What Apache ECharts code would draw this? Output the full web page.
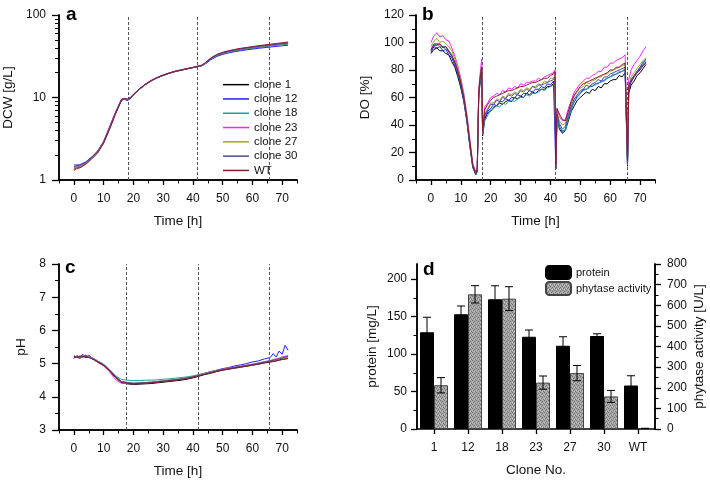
<!DOCTYPE html>
<html><head><meta charset="utf-8">
<script src="https://cdn.jsdelivr.net/npm/echarts@6/dist/echarts.min.js"></script>
<style>html,body{margin:0;padding:0;background:#fff}#c{width:710px;height:480px}</style>
</head><body><div id="c"></div>
<script>
const cloneNames = ['clone 1','clone 12','clone 18','clone 23','clone 27','clone 30','WT'];
const cloneColors = ['#000000','#2020ff','#1aa0a0','#ff20ff','#a0a030','#4a4a96','#8b1a2c'];

// ---- panel a: DCW [g/L] ----
const timeDCW = [0,1,2,4,6,8,10,12,14,16,17,18,19,20,22,24,26,28,30,32,34,36,38,40,42,43,44,46,48,50,52,54,56,58,60,62,64,66,68,70,72];
const dcwClone1  = [1.35,1.42,1.43,1.58,1.83,2.18,2.85,4.2,6.4,9.3,9.6,9.3,9.8,10.7,12.5,14.3,15.9,17.3,18.5,19.6,20.6,21.4,22.2,23.0,23.9,24.3,25.5,29.0,32.0,34.0,35.5,36.8,37.9,38.9,39.8,40.7,41.5,42.3,43.2,44.0,44.8];
const dcwClone12 = [1.52,1.52,1.53,1.66,1.9,2.25,2.9,4.3,6.5,9.3,9.5,9.2,9.7,10.7,12.5,14.3,15.9,17.3,18.5,19.6,20.6,21.4,22.2,23.0,23.8,24.2,25.3,28.6,31.4,33.3,34.7,35.9,36.9,37.8,38.6,39.4,40.2,40.9,41.6,42.3,43.0];
const dcwClone18 = [1.4,1.46,1.47,1.61,1.86,2.2,2.9,4.3,6.5,9.4,9.6,9.4,9.9,10.8,12.6,14.4,16.0,17.4,18.6,19.7,20.7,21.5,22.3,23.1,24.0,24.4,25.6,29.2,32.1,34.1,35.6,36.9,38.0,39.0,39.9,40.8,41.6,42.4,43.2,44.0,44.8];
const dcwClone23 = [1.38,1.44,1.45,1.6,1.85,2.22,2.95,4.45,6.7,9.6,9.8,9.5,10.0,10.9,12.7,14.5,16.1,17.5,18.7,19.8,20.8,21.6,22.4,23.2,24.1,24.6,26.0,29.8,32.9,35.0,36.6,37.9,39.0,40.0,41.0,41.9,42.8,43.6,44.5,45.4,46.3];
const dcwClone27 = [1.36,1.43,1.44,1.59,1.84,2.2,2.88,4.25,6.45,9.4,9.6,9.4,9.9,10.8,12.6,14.4,16.0,17.4,18.6,19.7,20.7,21.5,22.3,23.1,24.0,24.5,25.8,29.5,32.5,34.5,36.0,37.3,38.4,39.4,40.3,41.2,42.0,42.8,43.7,44.6,45.5];
const dcwClone30 = [1.45,1.5,1.5,1.64,1.88,2.24,2.92,4.35,6.55,9.5,9.7,9.4,9.9,10.8,12.6,14.4,16.0,17.4,18.6,19.7,20.7,21.5,22.3,23.1,24.0,24.5,25.9,29.7,32.7,34.7,36.3,37.6,38.7,39.7,40.6,41.5,42.4,43.2,44.1,45.0,45.9];
const dcwWT      = [1.3,1.38,1.4,1.55,1.8,2.12,2.78,4.1,6.3,9.2,9.7,9.6,10.0,10.9,12.7,14.5,16.1,17.5,18.7,19.8,20.8,21.6,22.4,23.2,24.1,24.7,26.2,30.1,33.2,35.3,36.9,38.2,39.4,40.4,41.4,42.4,43.3,44.2,45.1,46.0,47.0];

// ---- panel b: DO [%] ----
const timeDO = [0,1,2,3,4,5,6,7,8,9,10,11,12,13,14,15,15.5,16,16.5,17,17.3,
  18,19,20,21,22,23,24,25,26,27,28,29,30,31,32,33,34,35,36,37,38,39,40,41,41.5,41.8,42.2,
  43,44,45,46,47,48,49,50,51,52,53,54,55,56,57,58,59,60,61,62,63,64,65,65.5,65.8,66.2,
  67,68,69,70,71,72];
const doClone1 = [92,95,96,94,94,92,91,86,82,75,67,57,43,25,9,4,6,60,72,79,32,
  44,49,50,53,54,56,55,57,58,57,60,59,61,60,63,62,64,63,65,66,66,68,68,70,72,8,46,
  37,34,36,43,50,54,58,60,62,64,63,66,65,68,67,70,70,72,73,73,76,75,78,78,10,63,
  69,72,76,78,81,84];
const doClone12 = [93,97,96,97,94,95,91,89,83,77,68,58,44,26,10,4,7,62,73,80,34,
  45,50,52,55,54,57,57,59,58,60,60,62,61,63,63,65,64,66,66,68,67,70,69,72,73,9,47,
  39,35,37,45,52,57,61,63,66,66,68,68,70,70,72,72,74,75,76,77,78,79,80,81,11,65,
  71,75,78,81,84,86];
const doClone18 = [95,98,99,97,97,95,94,90,85,78,70,59,45,27,10,4,7,63,74,81,33,
  43,47,51,52,54,53,56,55,57,58,57,59,60,60,62,61,63,63,64,66,65,67,68,69,71,9,46,
  38,36,36,45,51,57,60,63,65,66,67,69,69,71,71,73,74,75,77,77,79,79,81,82,12,66,
  73,76,79,82,86,88];
const doClone23 = [100,105,107,104,105,102,101,96,90,83,74,63,48,30,12,6,9,66,78,88,38,
  53,56,60,61,63,62,65,64,67,66,68,67,70,69,71,71,72,72,74,73,75,76,77,78,80,11,52,
  46,43,44,52,58,64,67,70,72,74,74,76,77,79,79,82,82,85,85,87,88,89,91,92,15,73,
  80,84,87,90,94,97];
const doClone27 = [97,101,103,100,101,99,97,94,88,81,73,62,47,29,12,5,8,64,76,83,35,
  48,52,56,56,59,58,61,60,63,62,64,63,66,65,67,66,68,68,70,69,72,71,74,74,76,10,50,
  43,40,41,49,56,61,64,67,68,71,70,72,73,75,75,77,77,79,80,81,82,83,84,85,13,68,
  75,78,81,84,87,89];
const doClone30 = [95,99,99,99,97,97,94,91,85,79,70,60,45,27,10,4,7,63,74,81,34,
  47,51,55,55,58,57,60,59,62,61,63,62,65,64,66,65,68,67,69,69,70,71,72,73,75,9,48,
  41,37,39,47,54,59,62,65,66,69,68,70,71,73,72,75,75,77,78,79,80,81,82,83,12,66,
  73,76,79,82,85,87];
const doWT = [94,98,98,99,96,97,93,90,86,79,71,60,46,28,11,5,8,64,75,82,36,
  51,55,58,60,61,62,63,64,65,65,66,67,68,68,69,70,71,71,72,73,74,74,76,77,79,11,52,
  48,44,43,50,57,62,65,68,70,71,72,73,74,75,76,77,78,80,80,82,82,84,85,86,14,69,
  72,75,78,80,83,85];

// ---- panel c: pH ----
const timePH = [0,1,2,3,4,5,6,7,8,10,12,14,16,18,20,22,24,26,28,30,32,34,36,38,40,42,44,46,48,50,52,54,56,58,60,62,64,66,67,68,69,70,71,72];
const phClone1 = [5.18,5.2,5.16,5.22,5.18,5.2,5.15,5.1,5.04,
  4.94,4.78,4.58,4.43,4.39,4.37,4.38,4.39,4.4,4.42,4.44,4.46,4.48,4.5,4.53,4.57,4.62,4.67,4.71,4.76,4.8,4.83,4.86,4.89,4.92,4.95,4.98,5.02,5.05,
  5.07,5.08,5.11,5.13,5.14,5.15];
const phClone12 = [5.15,5.24,5.2,5.28,5.19,5.25,5.18,5.13,5.08,
  4.97,4.81,4.61,4.46,4.43,4.41,4.42,4.43,4.44,4.46,4.48,4.5,4.52,4.54,4.57,4.61,4.66,4.71,4.76,4.8,4.85,4.88,4.93,4.96,5.0,5.05,5.08,5.14,5.18,
  5.3,5.2,5.38,5.28,5.55,5.4];
const phClone18 = [5.22,5.2,5.21,5.19,5.23,5.2,5.17,5.14,5.08,
  4.98,4.83,4.64,4.52,4.5,4.49,4.49,4.5,4.5,4.51,4.53,4.54,4.56,4.58,4.6,4.63,4.67,4.71,4.75,4.8,4.83,4.86,4.89,4.92,4.95,4.98,5.02,5.06,5.09,
  5.11,5.13,5.15,5.17,5.19,5.2];
const phClone23 = [5.25,5.18,5.22,5.2,5.26,5.19,5.17,5.1,5.05,
  4.93,4.75,4.52,4.4,4.4,4.39,4.4,4.42,4.43,4.45,4.47,4.49,4.51,4.53,4.56,4.6,4.65,4.7,4.74,4.79,4.83,4.86,4.89,4.92,4.95,4.98,5.01,5.05,5.09,
  5.12,5.14,5.16,5.2,5.22,5.24];
const phClone27 = [5.2,5.23,5.19,5.25,5.21,5.23,5.17,5.12,5.07,
  4.97,4.81,4.61,4.46,4.43,4.41,4.42,4.43,4.44,4.46,4.48,4.5,4.52,4.54,4.57,4.61,4.65,4.7,4.74,4.79,4.82,4.85,4.88,4.91,4.94,4.97,5.0,5.04,5.08,
  5.1,5.12,5.14,5.17,5.19,5.21];
const phClone30 = [5.19,5.21,5.17,5.23,5.2,5.21,5.16,5.11,5.06,
  4.96,4.8,4.6,4.45,4.42,4.4,4.41,4.42,4.43,4.45,4.47,4.49,4.51,4.53,4.56,4.6,4.64,4.69,4.73,4.78,4.82,4.85,4.88,4.91,4.94,4.97,5.0,5.04,5.08,
  5.1,5.12,5.15,5.17,5.2,5.22];
const phWT = [5.21,5.19,5.23,5.2,5.24,5.18,5.15,5.11,5.05,
  4.95,4.79,4.59,4.44,4.41,4.39,4.4,4.41,4.42,4.44,4.46,4.48,4.5,4.52,4.55,4.59,4.63,4.68,4.72,4.77,4.81,4.84,4.87,4.9,4.93,4.96,4.99,5.02,5.05,
  5.06,5.08,5.1,5.12,5.14,5.16];

// feed / induction times (dashed lines), as placed in each panel
const markTimesA = [18.4, 41.6, 65.8];
const markTimesB = [17.2, 41.5, 65.7];
const markTimesC = [17.6, 41.7, 65.8];

// ---- panel d: bars ----
const clones = ['1','12','18','23','27','30','WT'];
const protein = [129,153,173,123,111,124,58];
const proteinErr = [20,11,18,9,12,3,13];
const phytase = [212,653,632,225,271,158,3];
const phytaseErr = [37,42,58,32,37,29,0];

// tick values
const timeMajor = [0,10,20,30,40,50,60,70];
const timeMinor = [-5,5,15,25,35,45,55,65,75];
const dcwMajor = [1,10,100];
const dcwMinor = [2,3,4,5,6,7,8,9,20,30,40,50,60,70,80,90];
const doMajor = [0,20,40,60,80,100,120];
const doMinor = [10,30,50,70,90,110];
const phMajor = [3,4,5,6,7,8];
const phMinor = [3.5,4.5,5.5,6.5,7.5];
const protMajor = [0,50,100,150,200];
const protMinor = [25,75,125,175];
const phyMajor = [0,100,200,300,400,500,600,700,800];
const phyMinor = [50,150,250,350,450,550,650,750];

const doSets = [doClone1,doClone12,doClone18,doClone23,doClone27,doClone30,doWT];
const dcwSets = [dcwClone1,dcwClone12,dcwClone18,dcwClone23,dcwClone27,dcwClone30,dcwWT];
const phSets = [phClone1,phClone12,phClone18,phClone23,phClone27,phClone30,phWT];

const FONT = '"Liberation Sans", Arial, sans-serif';
const BLK = '#000';
function mainAxis(extra, major, labelMargin, tickLen) {
  return Object.assign({
    type: 'value',
    axisLine: {show: true, onZero: false, lineStyle: {color: BLK, width: 1.5}},
    axisTick: {show: true, length: tickLen, lineStyle: {color: BLK, width: 1.3}, customValues: major},
    axisLabel: {show: true, customValues: major, color: '#111', fontSize: 12, fontFamily: FONT, margin: labelMargin},
    splitLine: {show: false},
    nameTextStyle: {fontSize: 13.5, fontFamily: FONT, color: '#111'},
    nameLocation: 'middle'
  }, extra);
}
function minorAxis(extra, minor, tickLen) {
  return Object.assign({
    type: 'value', offset: 0,
    axisLine: {show: true, onZero: false, lineStyle: {color: BLK, width: 1.5}},
    axisTick: {show: true, length: tickLen, lineStyle: {color: BLK, width: 1}, customValues: minor},
    axisLabel: {show: false},
    splitLine: {show: false}
  }, extra);
}

const xAxes = [
  mainAxis({gridIndex: 0, min: -5, max: 75, name: 'Time [h]', nameGap: 34}, timeMajor, 13, 5),
  minorAxis({gridIndex: 0, min: -5, max: 75, position: 'bottom'}, timeMinor, 3.5),
  mainAxis({gridIndex: 1, min: -5, max: 75, name: 'Time [h]', nameGap: 34}, timeMajor, 13, 5),
  minorAxis({gridIndex: 1, min: -5, max: 75, position: 'bottom'}, timeMinor, 3.5),
  mainAxis({gridIndex: 2, min: -5, max: 75, name: 'Time [h]', nameGap: 34}, timeMajor, 13, 5),
  minorAxis({gridIndex: 2, min: -5, max: 75, position: 'bottom'}, timeMinor, 3.5),
  {
    type: 'category', gridIndex: 3, data: clones, name: 'Clone No.', nameLocation: 'middle', nameGap: 34,
    nameTextStyle: {fontSize: 13.5, fontFamily: FONT, color: '#111'},
    axisLine: {show: true, onZero: false, lineStyle: {color: BLK, width: 1.5}},
    axisTick: {show: true, alignWithLabel: true, length: 5, lineStyle: {color: BLK, width: 1.3}},
    axisLabel: {color: '#111', fontSize: 12, fontFamily: FONT, margin: 13}
  }
];
const yAxes = [
  mainAxis({gridIndex: 0, type: 'log', logBase: 10, min: 1, max: 100, name: 'DCW [g/L]', nameGap: 44, position: 'left'}, dcwMajor, 13, 7),
  minorAxis({gridIndex: 0, type: 'log', logBase: 10, min: 1, max: 100, position: 'left'}, dcwMinor, 4),
  mainAxis({gridIndex: 1, min: 0, max: 120, name: 'DO [%]', nameGap: 44, position: 'left'}, doMajor, 12, 7),
  minorAxis({gridIndex: 1, min: 0, max: 120, position: 'left'}, doMinor, 4),
  mainAxis({gridIndex: 2, min: 3, max: 8, name: 'pH', nameGap: 31, position: 'left'}, phMajor, 13, 7),
  minorAxis({gridIndex: 2, min: 3, max: 8, position: 'left'}, phMinor, 4),
  mainAxis({gridIndex: 3, min: 0, max: 220, name: 'protein [mg/L]', nameGap: 38, position: 'left'}, protMajor, 10, 6),
  minorAxis({gridIndex: 3, min: 0, max: 220, position: 'left'}, protMinor, 3.5),
  mainAxis({gridIndex: 3, min: 0, max: 800, name: 'phytase activity [U/L]', nameGap: 37, position: 'right'}, phyMajor, 12, 6),
  minorAxis({gridIndex: 3, min: 0, max: 800, position: 'right'}, phyMinor, 3.5)
];

function markLines(times) {
  return {
    silent: true, symbol: ['none', 'none'], label: {show: false},
    lineStyle: {type: [3, 2], color: '#555', width: 1},
    data: times.map(t => ({xAxis: t}))
  };
}

const series = [];
function addPanel(times, sets, xi, yi, marks) {
  sets.forEach((vals, k) => {
    const s = {
      type: 'line', name: cloneNames[k], xAxisIndex: xi, yAxisIndex: yi,
      data: times.map((t, i) => [t, vals[i]]),
      symbol: 'none', lineStyle: {width: 1, color: cloneColors[k]}, itemStyle: {color: cloneColors[k]},
      z: 2 + k
    };
    if (k === 0) s.markLine = markLines(marks);
    series.push(s);
  });
}
addPanel(timeDCW, dcwSets, 0, 0, markTimesA);
addPanel(timeDO, doSets, 2, 2, markTimesB);
addPanel(timePH, phSets, 4, 4, markTimesC);

// stippled grey fill pattern (style only)
const pat = document.createElement('canvas');
pat.width = 4; pat.height = 4;
(function () {
  const g = pat.getContext('2d');
  g.fillStyle = '#a6a6a6'; g.fillRect(0, 0, 4, 4);
  g.fillStyle = '#747474';
  [[0,0],[2,1],[1,2],[3,3]].forEach(p => g.fillRect(p[0], p[1], 1, 1));
  g.fillStyle = '#c2c2c2';
  [[2,3],[0,2]].forEach(p => g.fillRect(p[0], p[1], 1, 1));
})();

const BW = 14;
series.push({
  type: 'bar', name: 'protein', xAxisIndex: 6, yAxisIndex: 6, data: protein,
  barWidth: BW, barGap: '0%', itemStyle: {color: '#000', borderColor: '#000', borderWidth: 1}
});
series.push({
  type: 'bar', name: 'phytase activity', xAxisIndex: 6, yAxisIndex: 8, data: phytase,
  barWidth: BW, barGap: '0%', itemStyle: {color: {image: pat, repeat: 'repeat'}, borderColor: '#444', borderWidth: 1}
});
function errSeries(vals, errs, yi, dx) {
  return {
    type: 'custom', xAxisIndex: 6, yAxisIndex: yi, z: 10, silent: true,
    data: vals.map((v, i) => [i, v - errs[i], v + errs[i]]),
    renderItem: function (params, api) {
      const lo = api.coord([api.value(0), api.value(1)]);
      const hi = api.coord([api.value(0), api.value(2)]);
      const x = lo[0] + dx;
      const st = {stroke: '#000', lineWidth: 1};
      return {type: 'group', children: [
        {type: 'line', shape: {x1: x, y1: lo[1], x2: x, y2: hi[1]}, style: st},
        {type: 'line', shape: {x1: x - 4, y1: lo[1], x2: x + 4, y2: lo[1]}, style: st},
        {type: 'line', shape: {x1: x - 4, y1: hi[1], x2: x + 4, y2: hi[1]}, style: st}
      ]};
    }
  };
}
series.push(errSeries(protein, proteinErr, 6, -BW / 2));
series.push(errSeries(phytase, phytaseErr, 8, BW / 2));

const letterFont = 'bold 19px ' + FONT;
const option = {
  animation: false,
  backgroundColor: '#fff',
  textStyle: {fontFamily: FONT},
  grid: [
    {left: 59, top: 15, width: 238, height: 165},
    {left: 416, top: 15, width: 239, height: 165},
    {left: 59, top: 264, width: 238, height: 166},
    {left: 417, top: 264, width: 238, height: 165}
  ],
  xAxis: xAxes,
  yAxis: yAxes,
  legend: [
    {data: cloneNames, orient: 'vertical', left: 223, top: 78, padding: 0, itemGap: 1,
     icon: 'rect', itemWidth: 26, itemHeight: 1.5,
     textStyle: {fontSize: 11.5, fontFamily: FONT, color: '#111', lineHeight: 13.3}, selectedMode: false},
    {data: ['protein', 'phytase activity'], orient: 'vertical', left: 545, top: 265, padding: 0, itemGap: 1,
     itemWidth: 25, itemHeight: 13, textStyle: {fontSize: 11, fontFamily: FONT, color: '#111'}, selectedMode: false}
  ],
  graphic: [
    {type: 'text', style: {text: 'a', x: 66, y: 24, font: letterFont, fill: '#000', verticalAlign: 'bottom'}},
    {type: 'text', style: {text: 'b', x: 422, y: 24, font: letterFont, fill: '#000', verticalAlign: 'bottom'}},
    {type: 'text', style: {text: 'c', x: 65, y: 277, font: letterFont, fill: '#000', verticalAlign: 'bottom'}},
    {type: 'text', style: {text: 'd', x: 423, y: 279, font: letterFont, fill: '#000', verticalAlign: 'bottom'}}
  ],
  series: series
};
echarts.init(document.getElementById('c')).setOption(option);
</script></body></html>
